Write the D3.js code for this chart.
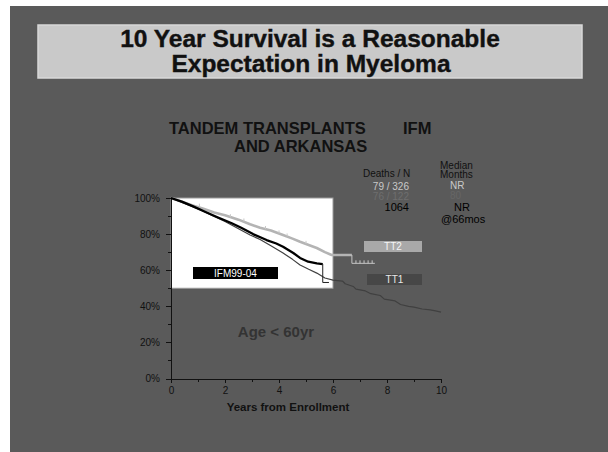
<!DOCTYPE html>
<meta charset="utf-8">
<style>
html, body { margin: 0; overflow: hidden; background: #fff; font-family: "Liberation Sans", Arial, sans-serif; }
svg { display: block; }
.axis path, .axis line { fill: none; stroke: #111; stroke-width: 1; shape-rendering: crispEdges; }
.axis text { font-family: "Liberation Sans", Arial, sans-serif; font-size: 10px; fill: #111; }
</style>
<body>
<script src="https://d3js.org/d3.v7.min.js"></script>
<script>

// survival curves, [years, percent surviving]
var tt2 = [[0,100],[0.3,98.5],[0.77,96],[1.2,94],[1.6,92],[2.0,90.5],[2.5,88],[2.93,85.5],[3.3,83.5],
           [3.7,82],[4.15,79.5],[4.5,77.5],[4.78,75.8],[5.1,74],[5.4,72.3],[5.7,70],[5.95,68.4],
           [6.7,68.4]];
var tt2Tail = [[6.7,68.4],[6.7,63.8],[7.55,63.8]];
var ifm = [[0,100],[0.4,98],[0.8,95.5],[1.26,92.4],[1.7,89.5],[2.25,86],[2.6,83.5],[3.04,80],
           [3.54,76.7],[3.9,74.8],[4.15,73],[4.53,69.5],[4.78,66.8],[5.08,64.7],[5.4,63.8],
           [5.62,63.4]];
var ifmTail = [[5.62,63.4],[5.62,53.2],[5.85,53.2]];
var tt1 = [[0,100],[0.5,97],[1.0,94],[1.5,90.5],[2.0,87],[2.5,83],[2.93,79.5],[3.3,77],[3.7,73.5],
           [4.15,69.5],[4.5,66],[4.78,62.9],[5.1,60.5],[5.4,58.4],[5.7,55.7],[6.0,54.5],[6.35,54],
           [6.45,52.5],[6.75,51],[6.85,49.5],[7.2,48.5],[7.4,47],[7.75,46],[7.9,44],[8.3,43],
           [8.5,41],[8.8,40],[9.0,39.5],[9.3,38.5],[9.6,38],[9.8,37.5],[10,36.8]];
// censored observations on the TT2 curve
var tt2Censor = [[1.05,95.2],[2.2,89.4],[2.7,87],[3.5,82.8],[4.0,80.4],[4.3,78.7],[5.0,74.6],
                 [6.85,63.8],[7.0,63.8],[7.15,63.8],[7.3,63.8],[7.45,63.8]];

var yTicks = [0, 20, 40, 60, 80, 100];
var yMinor = [10, 30, 50, 70, 90];
var xTicks = [0, 2, 4, 6, 8, 10];
var xMinor = [1, 3, 5, 7, 9];

var deathsRows = [{t: "79 / 326", c: "#c9c9c9"}, {t: "76 / 122", c: "#6e6e6e"}, {t: "1064", c: "#000"}];
var medianRows = [{t: "NR", c: "#c9c9c9"}, {t: "80", c: "#666"}, {t: "NR", c: "#000"}, {t: "@66mos", c: "#000"}];

var W = 608, H = 452;
var svg = d3.select("body").append("svg").attr("width", W).attr("height", H);

svg.append("rect").attr("x", 10).attr("y", 6).attr("width", W - 10).attr("height", H - 6)
    .attr("fill", "#5a5a5a");

// title banner
svg.append("rect").attr("x", 38).attr("y", 25).attr("width", 544).attr("height", 53)
    .attr("fill", "#c9c9c9").attr("stroke", "#d8d8d8").attr("stroke-width", 1.5);
svg.append("text").attr("x", 310).attr("y", 47).attr("text-anchor", "middle")
    .style("font-size", "24.5px").style("font-weight", "bold").attr("fill", "#111")
    .attr("stroke", "#111").attr("stroke-width", 0.4)
    .text("10 Year Survival is a Reasonable");
svg.append("text").attr("x", 311).attr("y", 72).attr("text-anchor", "middle")
    .style("font-size", "24.5px").style("font-weight", "bold").attr("fill", "#111")
    .attr("stroke", "#111").attr("stroke-width", 0.4)
    .text("Expectation in Myeloma");

// chart heading
var head = svg.append("g").style("font-size", "16.5px").style("font-weight", "bold").attr("fill", "#111");
head.append("text").attr("x", 169).attr("y", 134).text("TANDEM TRANSPLANTS");
head.append("text").attr("x", 403).attr("y", 134).text("IFM");
head.append("text").attr("x", 234).attr("y", 152).text("AND ARKANSAS");

// scales
var x = d3.scaleLinear().domain([0, 10]).range([171, 441]);
var y = d3.scaleLinear().domain([0, 100]).range([378.5, 198]);

// white inset (IFM99-04 plot)
svg.append("rect")
    .attr("x", x(0)).attr("y", y(100))
    .attr("width", x(6) - x(0)).attr("height", y(50) - y(100))
    .attr("fill", "#fff").attr("stroke", "#9a9a9a").attr("stroke-width", 1);

var line = d3.line().x(function(d) { return x(d[0]); }).y(function(d) { return y(d[1]); });

function curve(data, col, w) {
    svg.append("path").datum(data).attr("d", line)
        .attr("fill", "none").attr("stroke", col).attr("stroke-width", w)
        .attr("stroke-linejoin", "round");
}

curve(tt2, "#b4b4b4", 2.6);
curve(tt2Tail, "#c4c4c4", 1);
svg.selectAll(".cens").data(tt2Censor).enter().append("line")
    .attr("x1", function(d) { return x(d[0]); }).attr("x2", function(d) { return x(d[0]); })
    .attr("y1", function(d) { return y(d[1]) - 3; }).attr("y2", function(d) { return y(d[1]); })
    .attr("stroke", "#c8c8c8").attr("stroke-width", 1);
curve(tt1, "#404040", 1.2);
curve(ifm, "#000", 2.3);
curve(ifmTail, "#222", 1);

// axes
svg.append("g").attr("class", "axis").attr("transform", "translate(" + x(0) + ",0)")
    .call(d3.axisLeft(y).tickValues(yTicks).tickFormat(function(d) { return d + "%"; })
        .tickSize(5).tickPadding(6).tickSizeOuter(0));
svg.append("g").attr("class", "axis").attr("transform", "translate(" + x(0) + ",0)")
    .call(d3.axisLeft(y).tickValues(yMinor).tickFormat("").tickSize(3).tickSizeOuter(0))
    .select(".domain").remove();
svg.append("g").attr("class", "axis").attr("transform", "translate(0," + y(0) + ")")
    .call(d3.axisBottom(x).tickValues(xTicks).tickSize(4).tickPadding(4).tickSizeOuter(0));
svg.append("g").attr("class", "axis").attr("transform", "translate(0," + y(0) + ")")
    .call(d3.axisBottom(x).tickValues(xMinor).tickFormat("").tickSize(3).tickSizeOuter(0))
    .select(".domain").remove();

svg.append("text").attr("x", 288).attr("y", 411).attr("text-anchor", "middle")
    .style("font-size", "11.5px").style("font-weight", "bold").attr("fill", "#111")
    .text("Years from Enrollment");

svg.append("text").attr("x", 276).attr("y", 337).attr("text-anchor", "middle")
    .style("font-size", "15px").style("font-weight", "bold").attr("fill", "#333")
    .text("Age < 60yr");

// label boxes
function tag(x0, y0, w, h, fill, txt, col) {
    svg.append("rect").attr("x", x0).attr("y", y0).attr("width", w).attr("height", h).attr("fill", fill);
    svg.append("text").attr("x", x0 + w / 2).attr("y", y0 + h / 2 + 3.5).attr("text-anchor", "middle")
        .style("font-size", "10px").attr("fill", col).text(txt);
}
tag(193, 267, 85, 12, "#000", "IFM99-04", "#fff");
tag(364, 241, 58, 11, "#a9a9a9", "TT2", "#f4f4f4");
tag(367, 274, 55, 11, "#474747", "TT1", "#e8e8e8");

// deaths / median table
var tbl = svg.append("g").style("font-size", "10px");
tbl.append("text").attr("x", 363).attr("y", 177).attr("fill", "#111").text("Deaths / N");
tbl.append("text").attr("x", 440).attr("y", 168.5).attr("fill", "#111").text("Median");
tbl.append("text").attr("x", 440).attr("y", 178).attr("fill", "#111").text("Months");
tbl.selectAll(".dr").data(deathsRows).enter().append("text")
    .attr("x", 409).attr("text-anchor", "end")
    .attr("y", function(d, i) { return [189.5, 199.5, 211][i]; })
    .style("font-size", function(d, i) { return i == 2 ? "11px" : "10px"; })
    .attr("fill", function(d) { return d.c; }).text(function(d) { return d.t; });
tbl.selectAll(".mr").data(medianRows).enter().append("text")
    .attr("x", function(d, i) { return [450, 450, 454, 441][i]; })
    .attr("y", function(d, i) { return [188.5, 198.5, 211, 222.5][i]; })
    .style("font-size", function(d, i) { return i >= 2 ? "11px" : "10px"; })
    .attr("fill", function(d) { return d.c; }).text(function(d) { return d.t; });

</script>
</body>
